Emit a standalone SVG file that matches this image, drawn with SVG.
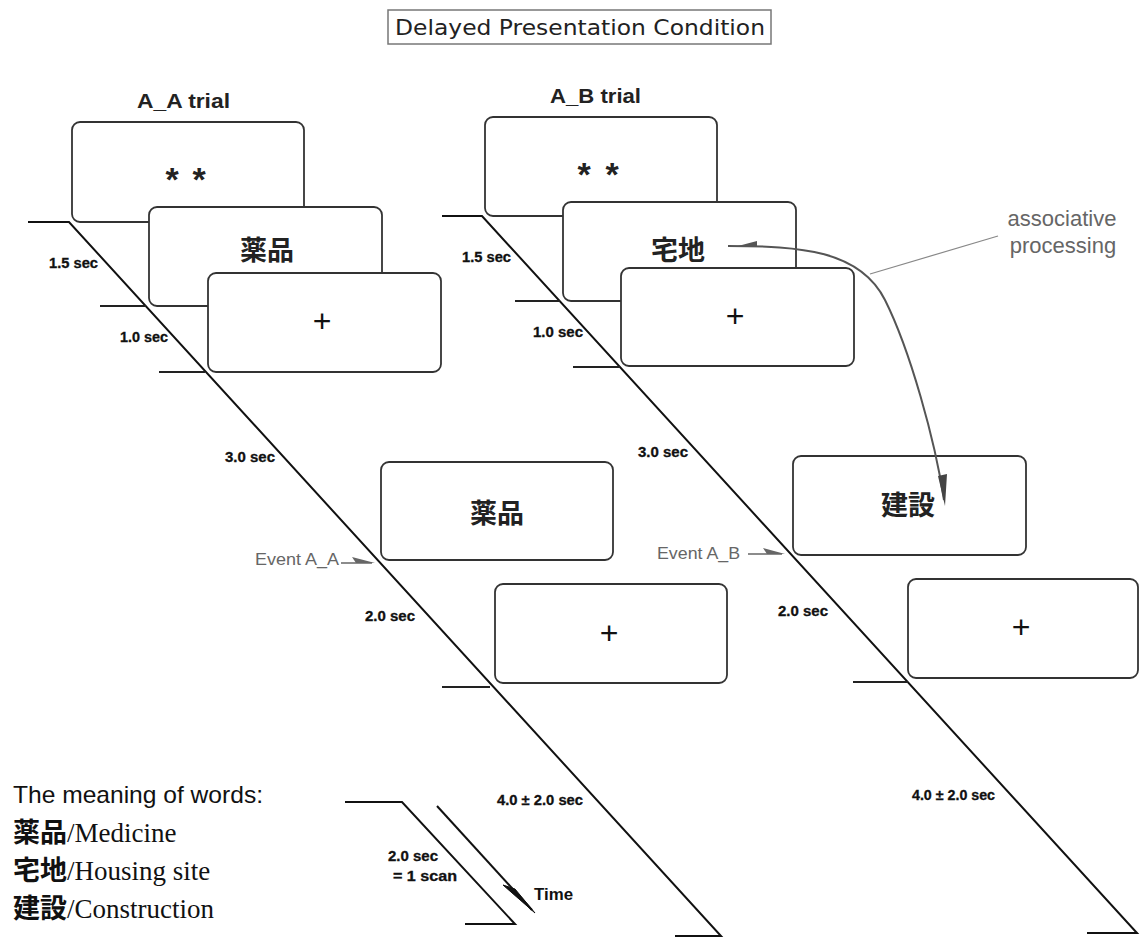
<svg xmlns="http://www.w3.org/2000/svg" width="1143" height="938" viewBox="0 0 1143 938">
<style>
.box{fill:#fff;stroke:#333;stroke-width:1.8}
.tl{stroke:#111;stroke-width:2;fill:none}
.hl{stroke:#222;stroke-width:1.8;fill:none}
.sec{font-family:"Liberation Sans",Arial,sans-serif;font-weight:bold;font-size:14px;fill:#111;stroke:#111;stroke-width:0.3}
.ev{font-family:"Liberation Sans",Arial,sans-serif;font-size:17px;fill:#666}
.evl{stroke:#666;stroke-width:1.5;fill:none}
.evh{fill:#666}
.cjk{font-family:"Noto Sans CJK JP",sans-serif;font-size:27px;font-weight:bold;fill:#222;text-anchor:middle}
.plus{font-family:"Liberation Sans",Arial,sans-serif;font-size:32px;fill:#111;text-anchor:middle}
.star{font-family:"Liberation Sans",Arial,sans-serif;font-size:34px;font-weight:bold;fill:#222;text-anchor:middle}
.trial{font-family:"Liberation Sans",Arial,sans-serif;font-size:20px;font-weight:bold;fill:#222}
.leg{font-family:"Liberation Serif","Noto Sans CJK JP",serif;font-size:27px;fill:#111}
.legc{font-family:"Noto Sans CJK JP",sans-serif;font-weight:bold}
</style>
<rect width="1143" height="938" fill="#fff"/>

<g id="title">
<rect x="388" y="10" width="383" height="34" fill="#fff" stroke="#777" stroke-width="1.5"/>
<text x="395" y="35" font-family="DejaVu Sans,sans-serif" font-size="21" fill="#222" textLength="370" lengthAdjust="spacingAndGlyphs">Delayed Presentation Condition</text>
</g>

<g id="trial-labels">
<text class="trial" x="137" y="108" textLength="93" lengthAdjust="spacingAndGlyphs">A_A trial</text>
<text class="trial" x="550" y="103" textLength="91" lengthAdjust="spacingAndGlyphs">A_B trial</text>
</g>

<g id="connectors">
<polyline class="tl" points="28,222 69,222 721,936 675,936"/>
<line class="hl" x1="100" y1="306" x2="146" y2="306"/>
<line class="hl" x1="159" y1="372" x2="205" y2="372"/>
<line class="hl" x1="442" y1="687" x2="490" y2="687"/>
<polyline class="tl" points="442,216 482,216 1137,933 1087,933"/>
<line class="hl" x1="515" y1="301" x2="560" y2="301"/>
<line class="hl" x1="573" y1="367" x2="620" y2="367"/>
<line class="hl" x1="853" y1="682" x2="908" y2="682"/>
<line class="evl" x1="341" y1="563" x2="372" y2="563"/>
<polygon class="evh" points="375,563 352,557 356,563"/>
<line class="evl" x1="748" y1="554" x2="782" y2="554"/>
<polygon class="evh" points="785,554 763,548 767,554"/>
<line x1="998" y1="236" x2="870" y2="274" stroke="#888" stroke-width="1.2"/>
<polyline class="tl" points="345,802 402,802 515,924 465,924"/>
<line class="tl" x1="437" y1="806" x2="532" y2="910"/>
<polygon points="535,913 503,885 515,889" fill="#111" stroke="#111" stroke-width="1"/>
</g>

<g id="left-stars"><rect class="box" x="72" y="122" width="232" height="100" rx="8"/><text class="star" x="172" y="191">*</text><text class="star" x="199" y="191">*</text></g>
<g id="left-word1"><rect class="box" x="149" y="207" width="233" height="99" rx="8"/><text class="cjk" x="267" y="260">薬品</text></g>
<g id="left-fix1"><rect class="box" x="208" y="273" width="233" height="99" rx="8"/><text class="plus" x="322" y="332">+</text></g>
<g id="left-word2"><rect class="box" x="381" y="462" width="232" height="98" rx="8"/><text class="cjk" x="497" y="523">薬品</text></g>
<g id="left-fix2"><rect class="box" x="495" y="584" width="232" height="99" rx="8"/><text class="plus" x="609" y="644">+</text></g>

<g id="right-stars"><rect class="box" x="485" y="117" width="232" height="99" rx="8"/><text class="star" x="584" y="186">*</text><text class="star" x="612" y="186">*</text></g>
<g id="right-word1"><rect class="box" x="563" y="202" width="233" height="99" rx="8"/><text class="cjk" x="678" y="260">宅地</text></g>
<g id="right-fix1"><rect class="box" x="621" y="268" width="233" height="98" rx="8"/><text class="plus" x="735" y="327">+</text></g>
<g id="right-word2"><rect class="box" x="793" y="456" width="233" height="99" rx="8"/><text class="cjk" x="908" y="515">建設</text></g>
<g id="right-fix2"><rect class="box" x="908" y="579" width="230" height="99" rx="8"/><text class="plus" x="1021" y="638">+</text></g>

<g id="assoc-arrow">
<path d="M728,246 C800,246 860,250 885,300 S935,440 944,500" fill="none" stroke="#555" stroke-width="2"/>
<polygon points="738,246 757,241 757,246" fill="#555"/>
<polygon points="938,476 947,474 945,506" fill="#444"/>
</g>

<g id="durations">
<text class="sec" x="49" y="268" textLength="49" lengthAdjust="spacingAndGlyphs">1.5 sec</text>
<text class="sec" x="120" y="342" textLength="48" lengthAdjust="spacingAndGlyphs">1.0 sec</text>
<text class="sec" x="225" y="462" textLength="50" lengthAdjust="spacingAndGlyphs">3.0 sec</text>
<text class="sec" x="365" y="621" textLength="50" lengthAdjust="spacingAndGlyphs">2.0 sec</text>
<text class="sec" x="497" y="805" textLength="86" lengthAdjust="spacingAndGlyphs">4.0 ± 2.0 sec</text>
<text class="sec" x="462" y="262" textLength="49" lengthAdjust="spacingAndGlyphs">1.5 sec</text>
<text class="sec" x="533" y="337" textLength="50" lengthAdjust="spacingAndGlyphs">1.0 sec</text>
<text class="sec" x="638" y="457" textLength="50" lengthAdjust="spacingAndGlyphs">3.0 sec</text>
<text class="sec" x="778" y="616" textLength="50" lengthAdjust="spacingAndGlyphs">2.0 sec</text>
<text class="sec" x="912" y="800" textLength="83" lengthAdjust="spacingAndGlyphs">4.0 ± 2.0 sec</text>
</g>

<g id="events">
<text class="ev" x="255" y="565" textLength="84" lengthAdjust="spacingAndGlyphs">Event A_A</text>
<text class="ev" x="657" y="559" textLength="83" lengthAdjust="spacingAndGlyphs">Event A_B</text>
</g>

<g id="assoc-label">
<text x="1062" y="226" font-family="Liberation Sans,Arial,sans-serif" font-size="22" fill="#666" text-anchor="middle">associative</text>
<text x="1063" y="253" font-family="Liberation Sans,Arial,sans-serif" font-size="22" fill="#666" text-anchor="middle">processing</text>
</g>

<g id="scale-legend">
<text class="sec" x="388" y="861" textLength="50" lengthAdjust="spacingAndGlyphs">2.0 sec</text>
<text class="sec" x="393" y="881" font-size="15" textLength="64" lengthAdjust="spacingAndGlyphs">= 1 scan</text>
<text x="534" y="900" font-family="Liberation Sans,Arial,sans-serif" font-size="16" font-weight="bold" fill="#111" textLength="39" lengthAdjust="spacingAndGlyphs">Time</text>
</g>

<g id="word-legend">
<text x="13" y="803" font-family="Liberation Sans,Arial,sans-serif" font-size="24" fill="#111" textLength="250" lengthAdjust="spacingAndGlyphs">The meaning of words:</text>
<text class="leg" x="13" y="842"><tspan class="legc">薬品</tspan>/Medicine</text>
<text class="leg" x="13" y="880"><tspan class="legc">宅地</tspan>/Housing site</text>
<text class="leg" x="13" y="918"><tspan class="legc">建設</tspan>/Construction</text>
</g>
</svg>
